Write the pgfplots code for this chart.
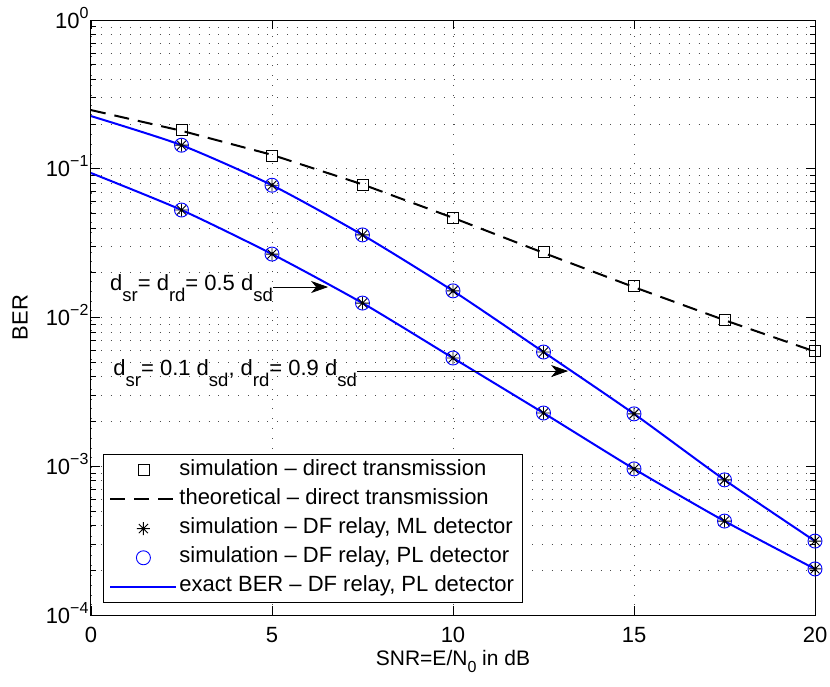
\documentclass[border=0pt]{standalone}
\usepackage{fontspec}
\setmainfont{Liberation Sans}
\usepackage{pgfplots}
\pgfplotsset{compat=1.18}
\usetikzlibrary{arrows.meta}
\definecolor{mblue}{RGB}{0,0,255}
\newcommand\sub[1]{\raisebox{-11pt}{\fontsize{18.5}{18.5}\selectfont #1}}
\newcommand\xsub[1]{\raisebox{-7pt}{\fontsize{16}{16}\selectfont #1}}
\newcommand\tsup[1]{\raisebox{10pt}{\fontsize{16}{16}\selectfont #1}}
\pgfdeclareplotmark{mstar}{%
 \pgfpathmoveto{\pgfqpoint{0pt}{\pgfplotmarksize}}\pgfpathlineto{\pgfqpoint{0pt}{-\pgfplotmarksize}}%
 \pgfpathmoveto{\pgfqpoint{\pgfplotmarksize}{0pt}}\pgfpathlineto{\pgfqpoint{-\pgfplotmarksize}{0pt}}%
 \pgfpathmoveto{\pgfqpoint{.7071\pgfplotmarksize}{.7071\pgfplotmarksize}}\pgfpathlineto{\pgfqpoint{-.7071\pgfplotmarksize}{-.7071\pgfplotmarksize}}%
 \pgfpathmoveto{\pgfqpoint{-.7071\pgfplotmarksize}{.7071\pgfplotmarksize}}\pgfpathlineto{\pgfqpoint{.7071\pgfplotmarksize}{-.7071\pgfplotmarksize}}%
 \pgfusepathqstroke}
\begin{document}
\begin{tikzpicture}
\useasboundingbox (-91pt,-72pt) rectangle (739pt,615pt);
\begin{axis}[
 at={(0pt,0pt)}, anchor=south west,
 scale only axis, width=724pt, height=595pt,
 ymode=log, xmin=0, xmax=20, ymin=1e-4, ymax=1,
 xtick={0,5,10,15,20},
 ytick={1e-4,1e-3,1e-2,1e-1,1},
 yticklabels={10\tsup{−4},10\tsup{−3},10\tsup{−2},10\tsup{−1},10\tsup{0}},
 minor ytick={2e-4,3e-4,4e-4,5e-4,6e-4,7e-4,8e-4,9e-4,2e-3,3e-3,4e-3,5e-3,6e-3,7e-3,8e-3,9e-3,2e-2,3e-2,4e-2,5e-2,6e-2,7e-2,8e-2,9e-2,2e-1,3e-1,4e-1,5e-1,6e-1,7e-1,8e-1,9e-1},
 /pgf/number format/assume math mode=true,
 grid=both,
 major grid style={black!70, line width=0.6pt, dash pattern=on 0.8pt off 9pt},
 minor grid style={black!70, line width=0.6pt, dash pattern=on 0.8pt off 9pt},
 tick align=inside, major tick length=9pt, minor tick length=5pt,
 axis line style={line width=1pt},
 every tick/.style={black, line width=0.8pt},
 font=\fontsize{22}{26}\selectfont,
 xticklabel style={anchor=base, yshift=-27pt, inner sep=0pt},
 yticklabel style={anchor=base east, yshift=-8pt, xshift=1pt},
 xlabel={SNR=E/N\xsub{0} in dB},
 xlabel style={at={(axis description cs:0.5,0)}, anchor=base, yshift=-50pt, inner sep=0pt, font=\fontsize{21}{24}\selectfont},
 ylabel={BER},
 ylabel style={at={(axis description cs:0,0.5)}, anchor=center, yshift=71pt},
 legend image code/.code={\draw[mark repeat=2,mark phase=2,#1] plot coordinates {(0pt,0pt) (33pt,0pt) (66pt,0pt)};},
 legend cell align=left,
 legend style={at={(axis description cs:0.0166,0.0202)}, anchor=south west,
   draw=black, line width=0.8pt, font=\fontsize{22}{26}\selectfont,
   inner xsep=6pt, inner ysep=1pt,
   nodes={text height=15pt, text depth=5pt, inner ysep=4.6pt},
   /tikz/every even column/.append style={column sep=10pt}},
]
\addplot[only marks, mark=square, mark size=5.5pt, black, line width=0.8pt] coordinates {
 (2.5,0.182) (5,0.122) (7.5,0.0778) (10,0.0467) (12.5,0.0276) (15,0.0163) (17.5,0.0096) (20,0.0060)};
\addlegendentry{simulation -- direct transmission}
\addplot[black, line width=2pt, dash pattern=on 15pt off 9pt, mark=none] coordinates {
 (0,0.248) (2.5,0.180) (5,0.124) (7.5,0.0785) (10,0.0468) (12.5,0.0272) (15,0.0160) (17.5,0.0096) (20,0.0059)};
\addlegendentry{theoretical -- direct transmission}
\addplot[only marks, mark=mstar, mark size=6.5pt, black, line width=0.9pt] coordinates {
 (2.5,0.144) (5,0.0775) (7.5,0.0359) (10,0.0151) (12.5,0.00586) (15,0.00225) (17.5,0.00081) (20,0.000314)
 (2.5,0.0528) (5,0.0267) (7.5,0.0125) (10,0.00534) (12.5,0.00228) (15,0.00096) (17.5,0.000428) (20,0.000204)};
\addlegendentry{simulation -- DF relay, ML detector}
\addplot[only marks, mark=o, mark size=7pt, mblue, line width=0.9pt] coordinates {
 (2.5,0.144) (5,0.0775) (7.5,0.0359) (10,0.0151) (12.5,0.00586) (15,0.00225) (17.5,0.00081) (20,0.000314)
 (2.5,0.0528) (5,0.0267) (7.5,0.0125) (10,0.00534) (12.5,0.00228) (15,0.00096) (17.5,0.000428) (20,0.000204)};
\addlegendentry{simulation -- DF relay, PL detector}
\addplot[mblue, line width=2pt, mark=none, smooth, tension=0.4] coordinates {
 (0,0.226) (2.5,0.144) (5,0.0775) (7.5,0.0359) (10,0.0151) (12.5,0.00586) (15,0.00225) (17.5,0.00081) (20,0.000314)};
\addlegendentry{exact BER -- DF relay, PL detector}
\addplot[mblue, line width=2pt, mark=none, smooth, tension=0.4, forget plot] coordinates {
 (0,0.0936) (2.5,0.0528) (5,0.0267) (7.5,0.0125) (10,0.00534) (12.5,0.00228) (15,0.00096) (17.5,0.000428) (20,0.000204)};
\draw[-{Stealth[length=17pt,width=12pt,inset=5pt]}, line width=0.8pt] (axis cs:5.03,0.01603) -- (axis cs:6.55,0.01603);
\node[anchor=base east, inner sep=0pt, yshift=-3pt, font=\fontsize{22}{26}\selectfont] at (axis cs:5.03,0.01603) {d\sub{sr}= d\sub{rd}= 0.5 d\sub{sd}};
\draw[-{Stealth[length=17pt,width=12pt,inset=5pt]}, line width=0.8pt] (axis cs:7.35,0.004365) -- (axis cs:13.18,0.004365);
\node[anchor=base east, inner sep=0pt, yshift=-4pt, font=\fontsize{22}{26}\selectfont] at (axis cs:7.35,0.004365) {d\sub{sr}= 0.1 d\sub{sd}, d\sub{rd}= 0.9 d\sub{sd}};
\end{axis}
\end{tikzpicture}
\end{document}
